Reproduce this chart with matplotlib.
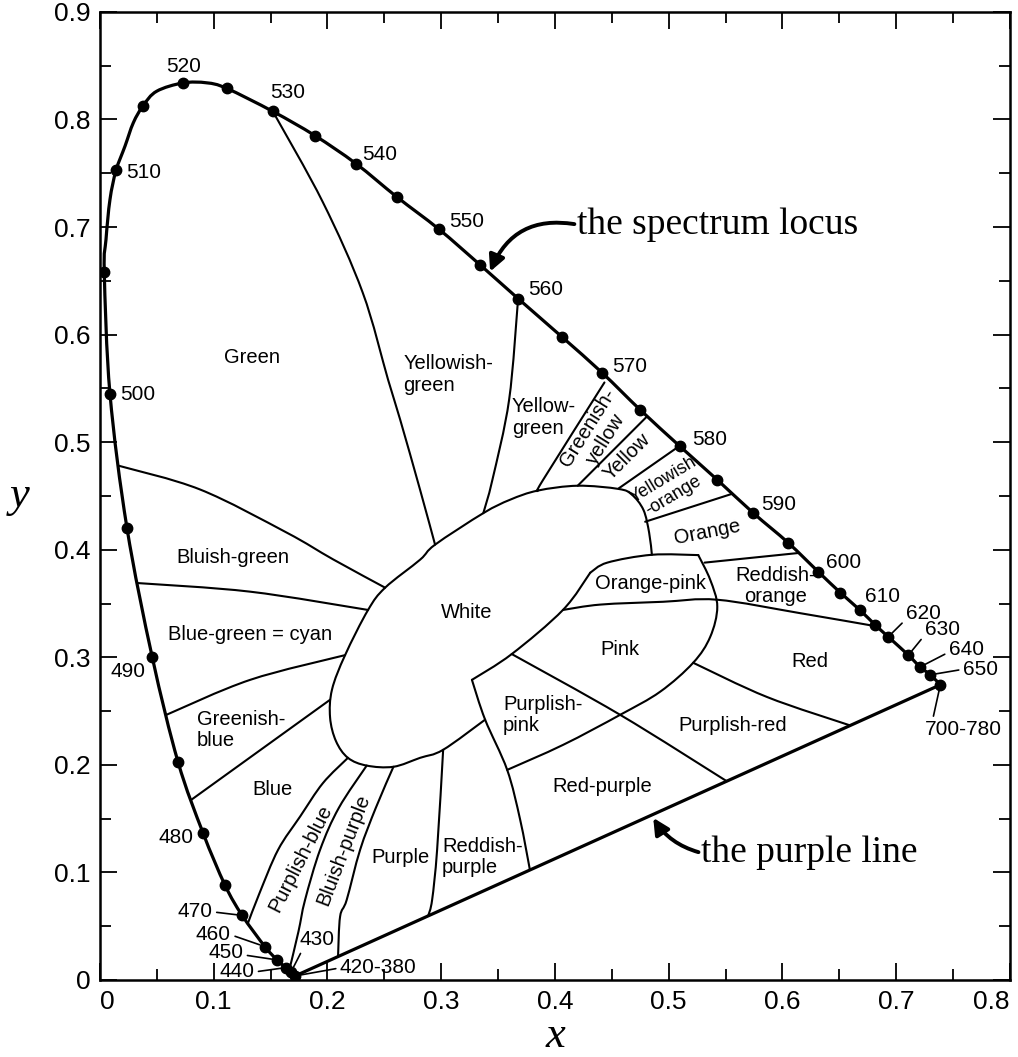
import matplotlib.pyplot as plt
import numpy as np
from matplotlib.path import Path
from matplotlib.patches import PathPatch
from matplotlib.ticker import MultipleLocator

# spectrum locus (None = bend point without a dot)
locus_nm = [380, 430, 440, 450, 460, 470, 475, 480, 485, 490, 495, 500,
            505, None, None, 510, None, None, 515, None, 520, None,
            525, 530, 535, 540, 545, 550, 555, 560, 565, 570, 575, 580,
            585, 590, 595, 600, 605, 610, 615, 620, 630, 640, 650, 700]
locus_x = [0.1715, 0.1680, 0.1635, 0.1557, 0.145, 0.125, 0.110, 0.0906, 0.0686, 0.046, 0.0237, 0.0088,
           0.0038, 0.0053, 0.0088, 0.0141, 0.0220, 0.0293, 0.0380, 0.0499, 0.0730, 0.0938,
           0.1113, 0.152, 0.189, 0.225, 0.261, 0.298, 0.334, 0.3676, 0.406, 0.4415, 0.475, 0.510,
           0.5427, 0.5745, 0.605, 0.6315, 0.651, 0.668, 0.6816, 0.693, 0.7107, 0.721, 0.730, 0.7388]
locus_y = [0.0037, 0.0075, 0.0115, 0.0186, 0.031, 0.060, 0.088, 0.1367, 0.2028, 0.300, 0.4205, 0.545,
           0.658, 0.6884, 0.7256, 0.7526, 0.7752, 0.7969, 0.813, 0.8263, 0.834, 0.8341,
           0.829, 0.8075, 0.785, 0.759, 0.728, 0.698, 0.665, 0.6335, 0.598, 0.5645, 0.530, 0.496,
           0.465, 0.434, 0.4065, 0.3795, 0.360, 0.344, 0.330, 0.319, 0.302, 0.291, 0.2837, 0.2744]

# wavelength labels placed beside their dots
wl_text = ["500", "510", "520", "530", "540", "550", "560", "570", "580", "590",
           "600", "610", "490", "480"]
wl_x = [0.0334, 0.0387, 0.0739, 0.1653, 0.2463, 0.3228, 0.3914, 0.4653, 0.5356, 0.5963,
        0.6535, 0.6878, 0.0246, 0.0668]
wl_y = [0.5442, 0.7507, 0.8493, 0.8251, 0.7674, 0.7051, 0.6419, 0.5702, 0.5023, 0.4419,
        0.3879, 0.3563, 0.2865, 0.1321]

# wavelength labels joined to their dot by a short leader
lead_text = ["470", "460", "450", "440", "430", "420-380", "620", "630", "640", "650", "700-780"]
lead_nm = [470, 460, 450, 440, 430, 380, 620, 630, 640, 650, 700]
lead_x = [0.0836, 0.0998, 0.1106, 0.1203, 0.1906, 0.2447, 0.7238, 0.7405, 0.7616, 0.7740, 0.759]
lead_y = [0.0633, 0.0419, 0.0251, 0.0074, 0.0372, 0.0112, 0.3405, 0.3260, 0.3074, 0.2888, 0.2326]
lead_rel = [(1, 0.5), (1, 0.5), (1, 0.4), (1, 0.5), (0.15, 0.2), (0, 0.5),
            (0, 0.2), (0, 0.2), (0, 0.35), (0, 0.5), (0.1, 1.0)]

# colour-name boundaries (x, y)
green_vs_yellowish_green = [(0.152, 0.8075), (0.196, 0.723), (0.231, 0.639), (0.2533, 0.558),
                            (0.2639, 0.521), (0.2814, 0.4558), (0.2946, 0.4047)]
yellowish_green_vs_yellow_green = [(0.3676, 0.6335), (0.3597, 0.5395), (0.345, 0.465), (0.337, 0.434)]
yellow_green_vs_greenish_yellow = [(0.4435, 0.5555), (0.3896, 0.465), (0.385, 0.455)]
greenish_yellow_vs_yellow = [(0.481, 0.524), (0.420, 0.4595)]
yellow_vs_yellowish_orange = [(0.5095, 0.4965), (0.456, 0.457)]
yellowish_orange_vs_orange = [(0.4793, 0.426), (0.5558, 0.452)]
orange_vs_reddish_orange = [(0.5315, 0.388), (0.6145, 0.397)]
pink_top_and_red_top = [(0.407, 0.344), (0.44, 0.349), (0.495, 0.3516), (0.5427, 0.3535),
                        (0.6156, 0.341), (0.6825, 0.3288)]
green_vs_bluish_green = [(0.0168, 0.478), (0.088, 0.456), (0.164, 0.416), (0.205, 0.391), (0.2507, 0.3647)]
bluish_green_vs_cyan = [(0.0332, 0.369), (0.132, 0.361), (0.2357, 0.344)]
cyan_vs_greenish_blue = [(0.0584, 0.2465), (0.132, 0.279), (0.2155, 0.302)]
greenish_blue_vs_blue = [(0.0803, 0.1675), (0.2023, 0.2605)]
blue_vs_purplish_blue = [(0.130, 0.0525), (0.140, 0.080), (0.1566, 0.121), (0.176, 0.152),
                         (0.196, 0.183), (0.218, 0.2065)]
purplish_blue_vs_bluish_purple = [(0.1665, 0.0095), (0.1745, 0.045), (0.1803, 0.0744), (0.1935, 0.121),
                                  (0.210, 0.160), (0.2345, 0.1993)]
bluish_purple_vs_purple = [(0.2093, 0.0217), (0.2111, 0.0589), (0.2169, 0.0744), (0.2287, 0.121),
                           (0.2425, 0.160), (0.258, 0.1982)]
purple_vs_reddish_purple = [(0.2885, 0.0595), (0.292, 0.0744), (0.2964, 0.121), (0.3017, 0.214)]
purplish_pink_left = [(0.327, 0.279), (0.3386, 0.242), (0.358, 0.1953), (0.3694, 0.149), (0.378, 0.1022)]
pink_vs_purplish_pink = [(0.362, 0.303), (0.4573, 0.2465), (0.551, 0.1848)]
red_vs_purplish_red = [(0.5215, 0.2949), (0.5866, 0.263), (0.6596, 0.2366)]
pink_outer_arc = [(0.358, 0.1953), (0.4072, 0.2186), (0.4573, 0.2465), (0.4925, 0.268), (0.5215, 0.2949),
                  (0.5365, 0.319), (0.5427, 0.347), (0.5365, 0.372), (0.526, 0.395)]
orange_pink_top = [(0.526, 0.395), (0.4852, 0.3953), (0.446, 0.388), (0.431, 0.3786)]
white_vs_pink = [(0.431, 0.3786), (0.407, 0.344), (0.362, 0.303), (0.327, 0.279)]
white_arc = [(0.3386, 0.242), (0.3017, 0.214), (0.2814, 0.2065), (0.258, 0.1982), (0.2345, 0.1993),
             (0.218, 0.2065), (0.2075, 0.222), (0.2023, 0.2440), (0.2040, 0.2700), (0.2155, 0.302),
             (0.2357, 0.344), (0.2507, 0.3647), (0.2814, 0.3907), (0.2946, 0.4047), (0.337, 0.434),
             (0.3606, 0.4465), (0.385, 0.455), (0.420, 0.4595), (0.4559, 0.4565), (0.4676, 0.4512),
             (0.4778, 0.437), (0.4828, 0.4158), (0.4852, 0.3953)]

boundaries = [green_vs_yellowish_green, yellowish_green_vs_yellow_green, yellow_green_vs_greenish_yellow,
              greenish_yellow_vs_yellow, yellow_vs_yellowish_orange, yellowish_orange_vs_orange,
              orange_vs_reddish_orange, pink_top_and_red_top, green_vs_bluish_green, bluish_green_vs_cyan,
              cyan_vs_greenish_blue, greenish_blue_vs_blue, blue_vs_purplish_blue,
              purplish_blue_vs_bluish_purple, bluish_purple_vs_purple, purple_vs_reddish_purple,
              purplish_pink_left, pink_vs_purplish_pink, red_vs_purplish_red, pink_outer_arc,
              orange_pink_top, white_vs_pink, white_arc]

# region names: text, x, y, rotation, alignment
region_text = ["Green", "Yellowish-\ngreen", "Yellow-\ngreen", "Greenish-\nyellow", "Yellow",
               "Yellowish\n-orange", "Orange", "Reddish-\norange", "Orange-pink", "White", "Pink",
               "Red", "Purplish-red", "Purplish-\npink", "Red-purple", "Reddish-\npurple", "Purple",
               "Bluish-purple", "Purplish-blue", "Blue", "Greenish-\nblue", "Blue-green = cyan",
               "Bluish-green"]
region_x = [0.134, 0.2665, 0.362, 0.437, 0.463, 0.4996, 0.534, 0.5937, 0.4837, 0.3228, 0.457,
            0.6245, 0.556, 0.3544, 0.4415, 0.3008, 0.2638, 0.2142, 0.1763, 0.1513, 0.0853, 0.132, 0.117]
region_y = [0.579, 0.563, 0.523, 0.508, 0.486, 0.4577, 0.4167, 0.3665, 0.369, 0.342, 0.307,
            0.296, 0.237, 0.2465, 0.1795, 0.1144, 0.1135, 0.121, 0.1126, 0.1767, 0.2326, 0.321, 0.3926]
region_rot = [0, 0, 0, 58, 45, 31, 11, 0, 0, 0, 0, 0, 0, 0, 0, 0, 0, 69, 63, 0, 0, 0, 0]
region_ha = ["center", "left", "left", "center", "center", "center", "center", "center", "center",
             "center", "center", "center", "center", "left", "center", "left", "center", "center",
             "center", "center", "left", "center", "center"]

x_ticks = [0, 0.1, 0.2, 0.3, 0.4, 0.5, 0.6, 0.7, 0.8]
x_tick_labels = ["0", "0.1", "0.2", "0.3", "0.4", "0.5", "0.6", "0.7", "0.8"]
y_ticks = [0, 0.1, 0.2, 0.3, 0.4, 0.5, 0.6, 0.7, 0.8, 0.9]
y_tick_labels = ["0", "0.1", "0.2", "0.3", "0.4", "0.5", "0.6", "0.7", "0.8", "0.9"]

sans = "Liberation Sans"
serif = "Liberation Serif"


def smooth_line(ax, pts, lw):
    """Draw a smooth curve through the given points (Catmull-Rom as Bezier path)."""
    p = np.asarray(pts, dtype=float)
    if len(p) == 2:
        ax.plot(p[:, 0], p[:, 1], "k-", lw=lw, solid_capstyle="round")
        return
    ext = np.vstack([p[0], p, p[-1]])
    verts = [p[0]]
    codes = [Path.MOVETO]
    for i in range(1, len(ext) - 2):
        p0, p1, p2, p3 = ext[i - 1], ext[i], ext[i + 1], ext[i + 2]
        verts += [p1 + (p2 - p0) / 6, p2 - (p3 - p1) / 6, p2]
        codes += [Path.CURVE4] * 3
    ax.add_patch(PathPatch(Path(verts, codes), fill=False, lw=lw, edgecolor="k",
                           capstyle="round", joinstyle="round"))


fig = plt.figure(figsize=(10.18, 10.57), dpi=100)
ax = fig.add_axes([0.0982, 0.0729, 0.8939, 0.9158])

# spectrum locus and purple line
smooth_line(ax, list(zip(locus_x, locus_y)), 2.3)
ax.plot([locus_x[-1], locus_x[0]], [locus_y[-1], locus_y[0]], "k-", lw=2.3)
dot_x = [x for n, x in zip(locus_nm, locus_x) if n is not None]
dot_y = [y for n, y in zip(locus_nm, locus_y) if n is not None]
ax.plot(dot_x, dot_y, "ko", ms=7.5, ls="none")

for line in boundaries:
    smooth_line(ax, line, 1.5)

for s, x, y in zip(wl_text, wl_x, wl_y):
    ax.text(x, y, s, ha="center", va="center", fontsize=15, family=sans)

for s, nm, x, y, rel in zip(lead_text, lead_nm, lead_x, lead_y, lead_rel):
    i = locus_nm.index(nm)
    ax.annotate(s, xy=(locus_x[i], locus_y[i]), xytext=(x, y), ha="center", va="center",
                fontsize=15, family=sans,
                arrowprops=dict(arrowstyle="-", lw=1.2, color="k", relpos=rel, shrinkA=1, shrinkB=4))

for s, x, y, r, ha in zip(region_text, region_x, region_y, region_rot, region_ha):
    size = 13 if s == "Yellowish\n-orange" else 14.5
    ax.text(x, y, s, ha=ha, va="center", rotation=r, rotation_mode="anchor",
            fontsize=size, family=sans, linespacing=1.15)

ax.annotate("the spectrum locus", xy=(0.343, 0.6586), xytext=(0.4195, 0.7023),
            ha="left", va="center", fontsize=27, family=serif,
            arrowprops=dict(arrowstyle="-|>", connectionstyle="arc3,rad=0.4", lw=2.8, color="k",
                            relpos=(0, 0.5), shrinkA=0, shrinkB=0, mutation_scale=24))
ax.annotate("the purple line", xy=(0.4864, 0.1507), xytext=(0.5286, 0.1181),
            ha="left", va="center", fontsize=27, family=serif,
            arrowprops=dict(arrowstyle="-|>", connectionstyle="arc3,rad=-0.2", lw=2.8, color="k",
                            relpos=(0, 0.5), shrinkA=0, shrinkB=0, mutation_scale=24))

ax.set_xlim(0, 0.8)
ax.set_ylim(0, 0.9)
ax.set_xticks(x_ticks)
ax.set_xticklabels(x_tick_labels, fontsize=19, family=sans)
ax.set_yticks(y_ticks)
ax.set_yticklabels(y_tick_labels, fontsize=19, family=sans)
ax.xaxis.set_minor_locator(MultipleLocator(0.05))
ax.yaxis.set_minor_locator(MultipleLocator(0.05))
ax.tick_params(which="both", direction="in", top=True, right=True, width=1.3)
ax.tick_params(which="major", length=12, pad=7)
ax.tick_params(which="minor", length=8)
ax.get_xticklabels()[-1].set_ha("right")
ax.get_xticklabels()[0].set_ha("left")
for sp in ax.spines.values():
    sp.set_linewidth(1.8)

ax.set_xlabel("x", fontsize=32, family=serif, style="italic", va="center")
ax.xaxis.set_label_coords(0.5, -0.058)
ax.set_ylabel("y", fontsize=32, family=serif, style="italic", rotation=0, ha="center", va="center")
ax.yaxis.set_label_coords(-0.088, 0.5)

fig.savefig("out.png", dpi=100)
